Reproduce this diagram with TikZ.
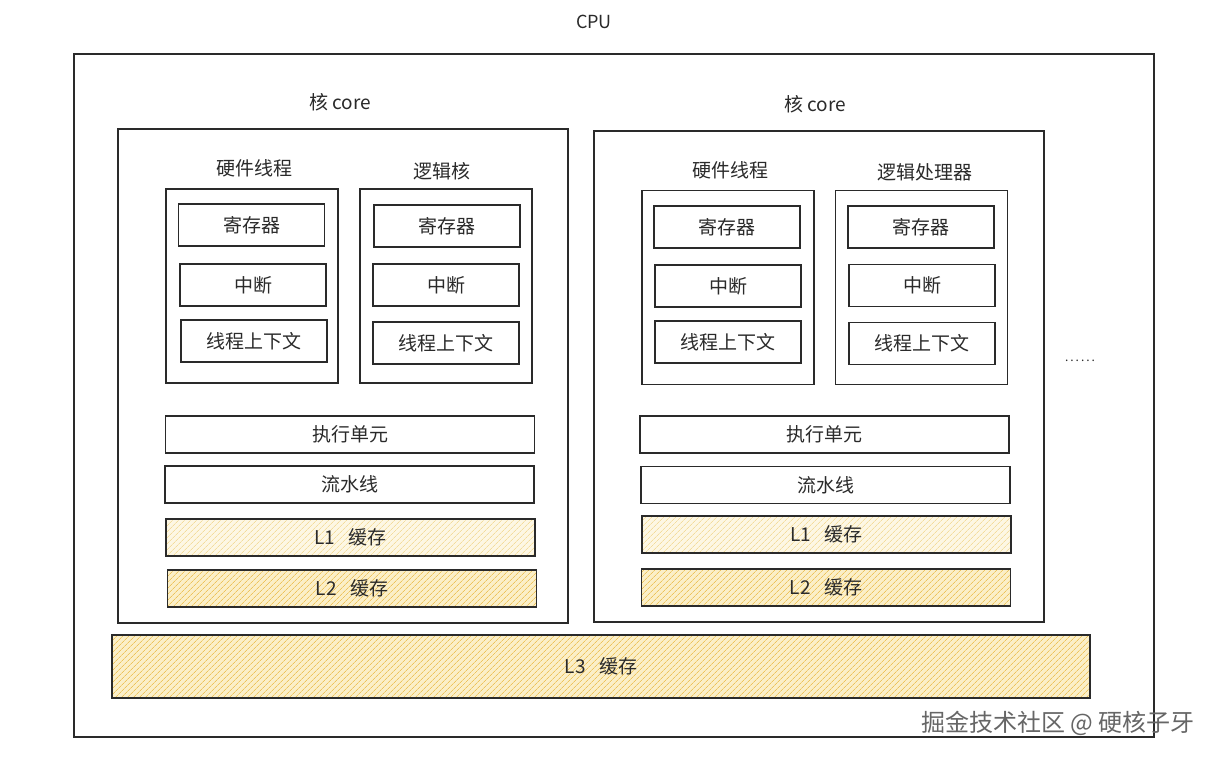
\documentclass[tikz,border=0pt]{standalone}
\usepackage{fontspec}
\setmainfont{Noto Sans CJK SC}
\usetikzlibrary{patterns.meta}
\definecolor{ink}{HTML}{2A2A2A}
\definecolor{hatchpale}{HTML}{F3DC9C}
\definecolor{hatchstrong}{HTML}{EDC35C}
\definecolor{fillpale}{HTML}{FDF7E4}
\definecolor{fillstrong}{HTML}{FBEFC8}
\tikzset{
  boxline/.style={draw=ink, line width=1.5pt, inner sep=0pt, font=\fontsize{19}{21}\selectfont, text=ink},
  cell/.style={boxline, minimum width=146pt, minimum height=42pt},
  group/.style={boxline, minimum width=172pt, minimum height=194pt},
  bar/.style={boxline, minimum width=369pt, minimum height=37pt},
  corebox/.style={boxline, minimum width=450pt, minimum height=494pt},
  outerbox/.style={boxline, minimum width=1080pt, minimum height=683pt},
  palehatch/.style={preaction={fill=fillpale}, pattern={Lines[angle=45,distance=4pt,line width=0.7pt]}, pattern color=hatchpale},
  stronghatch/.style={preaction={fill=fillstrong}, pattern={Lines[angle=45,distance=4pt,line width=0.8pt]}, pattern color=hatchstrong},
  lbl/.style={text=ink, font=\fontsize{19}{21}\selectfont, inner sep=0pt},
}
\begin{document}
\begin{tikzpicture}[x=1pt,y=-1pt]
\useasboundingbox (0,0) rectangle (1222,760);
\fill[white] (0,0) rectangle (1222,760);
% outer CPU box
\node[outerbox] (cpu) at (614,395.5) {};
\node[lbl, font=\fontsize{18}{20}\selectfont] (cputitle) at (594,22) {CPU};
% cores
\node[corebox] (coreL) at (343,376) {};
\node[corebox, minimum height=491pt] (coreR) at (819,376.5) {};
\node[lbl] (coreLt) at (340,102) {核 core};
\node[lbl] (coreRt) at (815,104) {核 core};
% left core groups
\node[group] (hwL) at (252,286) {};
\node[group] (lgL) at (446,286) {};
\node[lbl] (hwLt) at (254,168) {硬件线程};
\node[lbl] (lgLt) at (442,171) {逻辑核};
\node[cell] (regL1) at (251.5,225) {寄存器};
\node[cell] (intL1) at (253,285) {中断};
\node[cell] (ctxL1) at (254,341) {线程上下文};
\node[cell] (regL2) at (447,226) {寄存器};
\node[cell] (intL2) at (446,285) {中断};
\node[cell] (ctxL2) at (446,343) {线程上下文};
% left bars
\node[bar] (exeL) at (350,434.5) {执行单元};
\node[bar] (pipeL) at (349.5,484.5) {流水线};
\node[bar, palehatch] (l1L) at (350.5,537.5) {L1\hspace{0.7em}缓存};
\node[bar, stronghatch] (l2L) at (352,588.5) {L2\hspace{0.7em}缓存};
% right core groups
\node[group] (hwR) at (728,287.5) {};
\node[group] (lgR) at (921.5,287.5) {};
\node[lbl] (hwRt) at (730,170) {硬件线程};
\node[lbl] (lgRt) at (925,172) {逻辑处理器};
\node[cell] (regR1) at (727,227) {寄存器};
\node[cell] (intR1) at (728,286) {中断};
\node[cell] (ctxR1) at (728,342) {线程上下文};
\node[cell] (regR2) at (921,227) {寄存器};
\node[cell] (intR2) at (922,285.5) {中断};
\node[cell] (ctxR2) at (922,343.5) {线程上下文};
% right bars
\node[bar] (exeR) at (824.5,434.5) {执行单元};
\node[bar] (pipeR) at (825.5,485) {流水线};
\node[bar, palehatch] (l1R) at (826.5,534.5) {L1\hspace{0.7em}缓存};
\node[bar, stronghatch] (l2R) at (826,587.5) {L2\hspace{0.7em}缓存};
% L3
\node[boxline, stronghatch, minimum width=978pt, minimum height=63pt] (l3) at (601,666.5) {L3\hspace{0.7em}缓存};
% dots
\node[lbl, font=\fontsize{12}{12}\selectfont] (dots) at (1080,361) {.\,.\,.\,.\,.\,.};
% watermark
\node[inner sep=0pt, font=\fontsize{24}{26}\selectfont, text=gray!80!black] (wm) at (1058,723) {掘金技术社区 @ 硬核子牙};
\end{tikzpicture}
\end{document}
